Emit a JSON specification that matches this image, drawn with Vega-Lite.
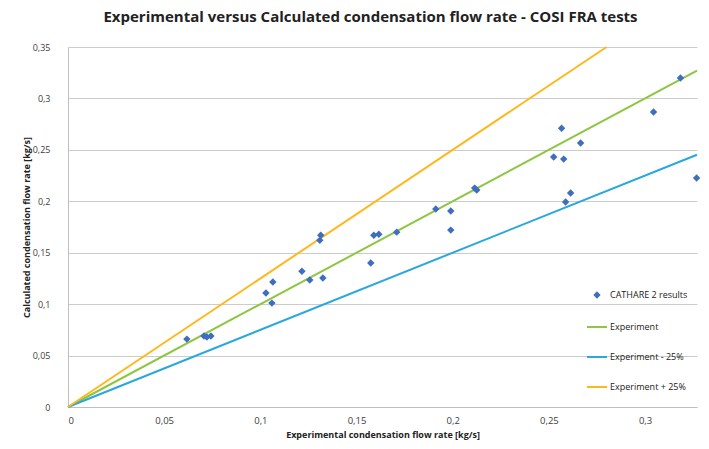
{
  "$schema": "https://vega.github.io/schema/vega-lite/v6.json",
  "width": 629,
  "height": 360,
  "autosize": "none",
  "padding": {"left": 68, "top": 47, "right": 12, "bottom": 42},
  "background": "white",
  "title": {
    "text": "Experimental versus Calculated condensation flow rate - COSI FRA tests",
    "font": "Open Sans",
    "fontSize": 15,
    "fontWeight": "bold",
    "color": "#222222",
    "anchor": "middle",
    "dx": -12,
    "offset": 18
  },
  "datasets": {
    "points": [
      {"x": 0.0618, "y": 0.066, "series": "CATHARE 2 results"},
      {"x": 0.0707, "y": 0.069, "series": "CATHARE 2 results"},
      {"x": 0.0722, "y": 0.068, "series": "CATHARE 2 results"},
      {"x": 0.0743, "y": 0.069, "series": "CATHARE 2 results"},
      {"x": 0.1029, "y": 0.1108, "series": "CATHARE 2 results"},
      {"x": 0.106, "y": 0.101, "series": "CATHARE 2 results"},
      {"x": 0.1065, "y": 0.1215, "series": "CATHARE 2 results"},
      {"x": 0.1216, "y": 0.132, "series": "CATHARE 2 results"},
      {"x": 0.1257, "y": 0.1234, "series": "CATHARE 2 results"},
      {"x": 0.1325, "y": 0.1254, "series": "CATHARE 2 results"},
      {"x": 0.1309, "y": 0.162, "series": "CATHARE 2 results"},
      {"x": 0.1314, "y": 0.167, "series": "CATHARE 2 results"},
      {"x": 0.1574, "y": 0.14, "series": "CATHARE 2 results"},
      {"x": 0.159, "y": 0.167, "series": "CATHARE 2 results"},
      {"x": 0.1616, "y": 0.168, "series": "CATHARE 2 results"},
      {"x": 0.1709, "y": 0.17, "series": "CATHARE 2 results"},
      {"x": 0.1912, "y": 0.1925, "series": "CATHARE 2 results"},
      {"x": 0.199, "y": 0.1906, "series": "CATHARE 2 results"},
      {"x": 0.199, "y": 0.172, "series": "CATHARE 2 results"},
      {"x": 0.2114, "y": 0.2128, "series": "CATHARE 2 results"},
      {"x": 0.2125, "y": 0.211, "series": "CATHARE 2 results"},
      {"x": 0.2566, "y": 0.271, "series": "CATHARE 2 results"},
      {"x": 0.2665, "y": 0.2566, "series": "CATHARE 2 results"},
      {"x": 0.2525, "y": 0.243, "series": "CATHARE 2 results"},
      {"x": 0.2577, "y": 0.241, "series": "CATHARE 2 results"},
      {"x": 0.2613, "y": 0.208, "series": "CATHARE 2 results"},
      {"x": 0.2587, "y": 0.1993, "series": "CATHARE 2 results"},
      {"x": 0.3044, "y": 0.2868, "series": "CATHARE 2 results"},
      {"x": 0.3184, "y": 0.3198, "series": "CATHARE 2 results"},
      {"x": 0.3268, "y": 0.2226, "series": "CATHARE 2 results"}
    ],
    "lines": [
      {"x": 0, "y": 0, "series": "Experiment"},
      {"x": 0.327, "y": 0.327, "series": "Experiment"},
      {"x": 0, "y": 0, "series": "Experiment - 25%"},
      {"x": 0.327, "y": 0.24525, "series": "Experiment - 25%"},
      {"x": 0, "y": 0, "series": "Experiment + 25%"},
      {"x": 0.28, "y": 0.35, "series": "Experiment + 25%"}
    ]
  },
  "encoding": {
    "x": {
      "field": "x",
      "type": "quantitative",
      "scale": {"domain": [0, 0.327], "nice": false, "zero": true},
      "axis": {
        "title": "Experimental condensation flow rate [kg/s]",
        "values": [0, 0.05, 0.1, 0.15, 0.2, 0.25, 0.3],
        "labelExpr": "replace(format(datum.value, '~g'), '.', ',')",
        "grid": false,
        "ticks": false,
        "domainColor": "#bfbfbf",
        "labelFontSize": 9.5,
        "labelColor": "#404040",
        "labelPadding": 8,
        "titleFontSize": 9,
        "titleFontWeight": "bold",
        "titleColor": "#222222",
        "titlePadding": 6
      }
    },
    "y": {
      "field": "y",
      "type": "quantitative",
      "scale": {"domain": [0, 0.35], "nice": false},
      "axis": {
        "title": "Calculated condensation flow rate [kg/s]",
        "values": [0, 0.05, 0.1, 0.15, 0.2, 0.25, 0.3, 0.35],
        "labelExpr": "replace(format(datum.value, '~g'), '.', ',')",
        "grid": true,
        "gridColor": "#cccccc",
        "gridWidth": 1.2,
        "ticks": false,
        "domainColor": "#bfbfbf",
        "labelFontSize": 9,
        "labelColor": "#404040",
        "labelPadding": 18,
        "titleFontSize": 9,
        "titleFontWeight": "bold",
        "titleColor": "#222222",
        "titleX": -37,
        "titlePadding": 2
      }
    },
    "color": {
      "field": "series",
      "type": "nominal",
      "scale": {
        "domain": ["CATHARE 2 results", "Experiment", "Experiment - 25%", "Experiment + 25%"],
        "range": ["#3F6DBF", "#8DC63F", "#2AA7DF", "#FFB81C"]
      },
      "legend": {
        "title": null,
        "orient": "none",
        "legendX": 518,
        "legendY": 237,
        "direction": "vertical",
        "rowPadding": 14,
        "labelFontSize": 9,
        "labelColor": "#222222",
        "labelOffset": 2,
        "symbolStrokeWidth": 2,
        "encode": {
          "symbols": {
            "update": {
              "stroke": {"scale": "color", "field": "value"},
              "strokeWidth": {"value": 2},
              "size": {"signal": "datum.value === 'CATHARE 2 results' ? 20 : 400"},
              "opacity": {"value": 1}
            }
          }
        }
      }
    }
  },
  "layer": [
    {
      "data": {"name": "lines"},
      "mark": {"type": "line", "strokeWidth": 2},
      "encoding": {
        "detail": {"field": "series"}
      }
    },
    {
      "data": {"name": "points"},
      "mark": {"type": "point", "filled": true, "opacity": 1, "size": 55},
      "encoding": {
        "shape": {
          "field": "series",
          "type": "nominal",
          "scale": {
            "domain": ["CATHARE 2 results", "Experiment", "Experiment - 25%", "Experiment + 25%"],
            "range": ["diamond", "stroke", "stroke", "stroke"]
          },
          "legend": {
            "title": null,
            "orient": "none",
            "legendX": 518,
            "legendY": 237
          }
        }
      }
    }
  ],
  "config": {
    "view": {"stroke": null},
    "font": "Open Sans"
  }
}
